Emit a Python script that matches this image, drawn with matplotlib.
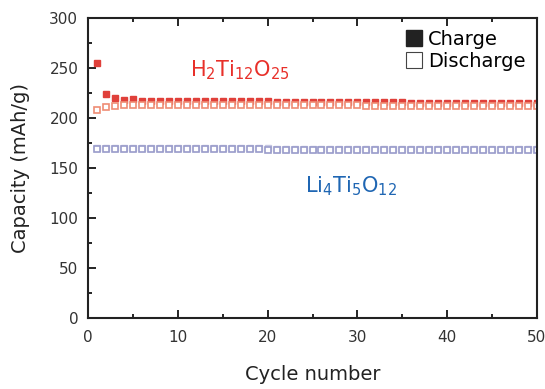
import numpy as np
import matplotlib.pyplot as plt

# ==========================
# Dados
# ==========================
cycles = list(range(1, 51))

hto_charge = [255, 224, 220, 218, 219, 217, 217, 217, 217, 217,
              217, 217, 217, 217, 217, 217, 217, 217, 217, 217,
              216, 216, 216, 216, 216, 216, 216, 216, 216, 216,
              216, 216, 216, 216, 216, 215, 215, 215, 215, 215,
              215, 215, 215, 215, 215, 215, 215, 215, 215, 215]
hto_discharge = [208, 211, 212, 213, 213, 213, 213, 213, 213, 213,
                 213, 213, 213, 213, 213, 213, 213, 213, 213, 213,
                 213, 213, 213, 213, 213, 213, 213, 213, 213, 213,
                 212, 212, 212, 212, 212, 212, 212, 212, 212, 212,
                 212, 212, 212, 212, 212, 212, 212, 212, 212, 212]
lto_charge = [170, 170, 170, 170, 170, 170, 170, 170, 170, 170,
              170, 170, 170, 170, 170, 170, 170, 170, 170, 170,
              169, 169, 169, 169, 169, 169, 169, 169, 169, 169,
              169, 169, 169, 169, 169, 169, 169, 169, 169, 169,
              169, 169, 169, 169, 169, 169, 169, 169, 169, 169]
lto_discharge = [169, 169, 169, 169, 169, 169, 169, 169, 169, 169,
                 169, 169, 169, 169, 169, 169, 169, 169, 169, 168,
                 168, 168, 168, 168, 168, 168, 168, 168, 168, 168,
                 168, 168, 168, 168, 168, 168, 168, 168, 168, 168,
                 168, 168, 168, 168, 168, 168, 168, 168, 168, 168]

# ==========================
# Gráfico
# ==========================
fig = plt.figure(figsize=(5.45, 3.89), dpi=100)
ax = fig.add_axes([88 / 545, 1 - 318 / 389, (537 - 88) / 545, 300 / 389])

ms = 5
ax.plot(cycles, lto_charge, 's', ms=ms, mfc='#d4d6ec', mec='#c4c6e2',
        mew=1.0, ls='none')
ax.plot(cycles, lto_discharge, 's', ms=ms, mfc='white', mec='#9a9ccb',
        mew=1.2, ls='none')
ax.plot(cycles, hto_charge, 's', ms=ms, mfc='#e0403a', mec='#e0403a',
        mew=1.0, ls='none')
ax.plot(cycles, hto_discharge, 's', ms=ms, mfc='white', mec='#ef8c74',
        mew=1.2, ls='none')

ax.text(11.4, 242, r'H$_2$Ti$_{12}$O$_{25}$', color='#e8302a', fontsize=15)
ax.text(24.2, 126, r'Li$_4$Ti$_5$O$_{12}$', color='#1f66b3', fontsize=15)

# legenda
ax.plot([], [], 's', ms=11, color='#222222', label='Charge')
ax.plot([], [], 's', ms=11, mfc='white', mec='#444444', mew=0.8,
        label='Discharge')
handles = ax.get_lines()[-2:]
ax.legend(handles=handles, loc='upper right', frameon=False, fontsize=14,
          handletextpad=0.2, borderaxespad=0.2, labelspacing=0.15,
          handlelength=1.0, bbox_to_anchor=(1.0, 1.0))

ax.set_xlim(0, 50)
ax.set_ylim(0, 300)
ax.set_xticks(range(0, 51, 10))
ax.set_xticks(range(0, 51, 5), minor=True)
ax.set_yticks(range(0, 301, 50))
ax.set_yticks(range(0, 301, 25), minor=True)
ax.tick_params(which='both', direction='in', top=True, right=False,
               labelsize=11, labelcolor='#333333', width=1.2)
ax.tick_params(which='major', length=6, pad=9)
ax.tick_params(which='minor', length=3)
ax.tick_params(axis='y', pad=7)
for s in ax.spines.values():
    s.set_linewidth(1.5)
    s.set_color('#222222')

ax.set_xlabel('Cycle number', fontsize=14, color='#222222', labelpad=14)
ax.set_ylabel('Capacity (mAh/g)', fontsize=14, color='#222222', labelpad=14)

plt.savefig('out.png', dpi=100)
plt.close()
